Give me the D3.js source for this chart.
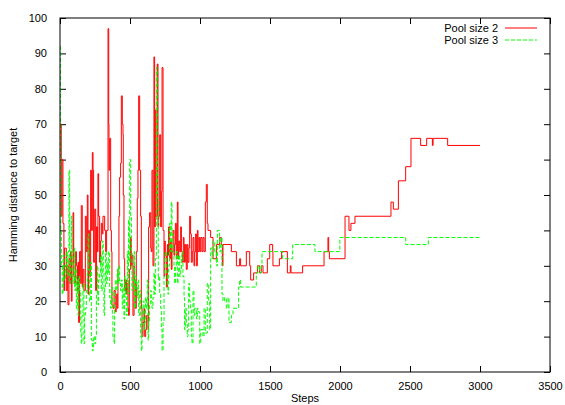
<!DOCTYPE html>
<html>
<head>
<meta charset="utf-8">
<script src="https://cdn.jsdelivr.net/npm/d3@7"></script>
<style>
  body { margin: 0; background: #fff; }
  svg { display: block; font-family: "Liberation Sans", Arial, sans-serif; }
</style>
</head>
<body>
<svg id="chart" width="565" height="405"></svg>
<script>
const xTicks = [0, 500, 1000, 1500, 2000, 2500, 3000, 3500];
const yTicks = [0, 10, 20, 30, 40, 50, 60, 70, 80, 90, 100];
const seriesNames = ["Pool size 2", "Pool size 3"];

// Pool size 2 (red)
const steps2 = [0,9,14,21,28,33,45,52,57,64,71,76,81,86,93,98,105,112,117,124,129,133,140,148,152,159,164,171,181,188,195,200,205,212,219,224,231,236,240,248,255,260,267,271,276,283,290,295,302,307,319,326,333,343,348,350,355,362,367,371,378,386,395,402,409,414,421,426,433,438,445,450,452,457,462,469,474,481,486,490,495,505,509,514,521,529,533,538,545,552,557,562,569,576,581,586,593,600,605,612,619,629,633,640,648,652,657,664,671,676,681,686,695,700,705,712,719,724,729,736,743,748,752,760,767,771,776,783,790,795,800,807,814,819,824,831,838,843,848,855,862,867,874,881,886,890,895,902,909,914,921,926,933,938,945,950,957,962,969,974,981,986,993,998,1005,1014,1021,1029,1038,1045,1052,1057,1076,1093,1117,1140,1152,1160,1164,1224,1260,1283,1290,1331,1355,1362,1383,1410,1426,1438,1450,1481,1498,1519,1521,1567,1583,1624,1645,1650,1733,1886,1914,1919,1924,2036,2064,2078,2107,2364,2381,2417,2469,2507,2576,2619,2660,2665,2769,3000];
const pool2 = [70,44,60,42,23,35,23,30,19,32,25,34,20,31,45,27,25,34,30,23,31,14,34,25,47,24,29,23,44,34,50,22,40,27,57,40,62,57,31,46,23,41,34,56,44,31,37,42,39,44,40,34,40,97,70,57,66,40,34,19,18,23,17,22,18,29,44,55,59,78,70,67,50,32,23,26,22,25,18,16,29,38,30,33,16,30,26,18,34,49,57,78,57,44,18,10,14,18,10,12,16,12,41,45,35,34,57,30,89,41,74,44,87,41,44,67,41,51,86,40,27,37,33,24,36,33,41,32,37,29,34,40,33,36,42,32,48,32,37,34,41,34,31,38,36,31,36,29,36,31,35,44,39,31,34,38,30,34,39,30,40,34,38,34,38,34,38,34,48,53,42,40,38,32,36,38,36,30,36,34,30,32,30,34,30,26,28,30,28,30,28,32,36,34,30,32,34,28,30,28,30,34,38,34,32,44,40,42,44,48,46,54,58,66,64,66,64,66,64,64];

// Pool size 3 (green)
const steps3 = [0,3,6,10,16,22,28,38,45,52,57,64,69,76,81,86,93,100,105,110,117,124,129,133,140,148,152,157,164,171,176,181,188,195,200,205,212,219,224,231,238,248,255,260,267,271,276,283,290,295,302,309,314,319,326,331,338,343,348,355,362,367,374,378,386,390,395,402,409,414,419,426,433,438,445,450,457,462,469,474,481,486,490,493,498,505,510,514,521,529,533,538,545,552,557,562,569,576,581,586,593,600,605,610,617,624,629,633,640,648,652,657,664,671,676,681,688,693,698,702,705,712,719,724,729,736,743,748,752,760,767,771,776,783,790,795,800,807,814,819,824,831,838,843,848,855,862,867,871,878,886,890,895,902,909,914,919,926,933,938,943,950,957,962,969,974,981,986,998,1005,1021,1029,1038,1052,1062,1069,1076,1086,1093,1105,1117,1124,1140,1148,1157,1164,1176,1188,1200,1207,1224,1236,1276,1283,1290,1402,1414,1426,1438,1443,1590,1662,1821,1999,2469,2631,3000];
const pool3 = [92,61,40,30,22,33,26,30,34,27,34,57,25,33,44,27,25,35,23,29,18,26,16,27,23,11,8,16,25,8,16,18,23,28,39,29,20,31,9,6,10,8,10,22,30,19,26,28,33,23,37,28,16,24,34,25,31,28,34,21,18,24,16,10,8,18,26,23,29,25,30,25,23,26,18,24,15,27,21,16,34,22,43,31,60,44,34,23,26,34,18,27,24,21,26,16,23,10,6,15,20,12,14,21,18,26,9,14,19,23,20,18,21,28,22,32,86,60,49,26,27,22,18,12,6,14,27,32,34,28,24,22,30,42,34,48,39,34,30,25,30,34,25,27,33,27,29,32,34,27,21,12,18,14,10,12,25,20,18,10,8,23,16,18,18,15,18,17,8,12,10,18,11,25,20,12,35,32,37,34,30,40,34,38,22,20,21,18,21,14,16,18,24,26,24,28,30,28,30,34,32,36,34,38,36,38,38];

const margin = {top: 18, right: 15, bottom: 33, left: 60};
const width = 565, height = 405;
const plotW = width - margin.left - margin.right;
const plotH = height - margin.top - margin.bottom;

const svg = d3.select("#chart");
const g = svg.append("g").attr("transform", `translate(${margin.left},${margin.top})`);

const x = d3.scaleLinear().domain([0, 3500]).range([0, plotW]);
const y = d3.scaleLinear().domain([0, 100]).range([plotH, 0]);

const tickLen = 6;

// ticks inside, mirrored on top and right like gnuplot
const xAxisB = g.append("g").attr("transform", `translate(0,${plotH})`)
  .call(d3.axisBottom(x).tickValues(xTicks).tickSize(-tickLen).tickPadding(tickLen + 4)
    .tickFormat(d3.format("d")));
const xAxisT = g.append("g")
  .call(d3.axisTop(x).tickValues(xTicks).tickSize(-tickLen).tickFormat(""));
const yAxisL = g.append("g")
  .call(d3.axisLeft(y).tickValues(yTicks).tickSize(-tickLen).tickPadding(tickLen + 7));
const yAxisR = g.append("g").attr("transform", `translate(${plotW},0)`)
  .call(d3.axisRight(y).tickValues(yTicks).tickSize(-tickLen).tickFormat(""));

[xAxisB, xAxisT, yAxisL, yAxisR].forEach(a => {
  a.select(".domain").remove();
  a.selectAll("line").attr("stroke", "#000");
  a.selectAll("text").attr("font-size", 11).attr("fill", "#000")
    .style("font-family", '"Liberation Sans", Arial, sans-serif');
});

const line = d3.line()
  .x(d => x(d[0]))
  .y(d => y(d[1]))
  .curve(d3.curveStepAfter);

const data2 = steps2.map((s, i) => [s, pool2[i]]);
const data3 = steps3.map((s, i) => [s, pool3[i]]);

g.append("path")
  .datum(data2)
  .attr("fill", "none")
  .attr("stroke", "#ff0000")
  .attr("stroke-width", 1)
  .attr("d", line);

g.append("path")
  .datum(data3)
  .attr("fill", "none")
  .attr("stroke", "#00ff00")
  .attr("stroke-width", 1)
  .attr("stroke-dasharray", "4,2")
  .attr("d", line);

// frame
g.append("rect")
  .attr("width", plotW).attr("height", plotH)
  .attr("fill", "none").attr("stroke", "#000").attr("stroke-width", 1);

// legend
const legend = svg.append("g");
const legendColors = ["#ff0000", "#00ff00"];
const legendDash = [null, "4,2"];
seriesNames.forEach((name, i) => {
  const ly = 28 + i * 12;
  legend.append("text")
    .attr("x", 498).attr("y", ly + 4)
    .attr("text-anchor", "end")
    .attr("font-size", 11)
    .text(name);
  legend.append("line")
    .attr("x1", 505).attr("x2", 537)
    .attr("y1", ly).attr("y2", ly)
    .attr("stroke", legendColors[i])
    .attr("stroke-dasharray", legendDash[i]);
});

// axis titles
svg.append("text")
  .attr("x", margin.left + plotW / 2).attr("y", 402)
  .attr("text-anchor", "middle").attr("font-size", 11)
  .text("Steps");

svg.append("text")
  .attr("transform", `translate(17,${margin.top + plotH / 2}) rotate(-90)`)
  .attr("text-anchor", "middle").attr("font-size", 11)
  .text("Hamming distance to target");
</script>
</body>
</html>
